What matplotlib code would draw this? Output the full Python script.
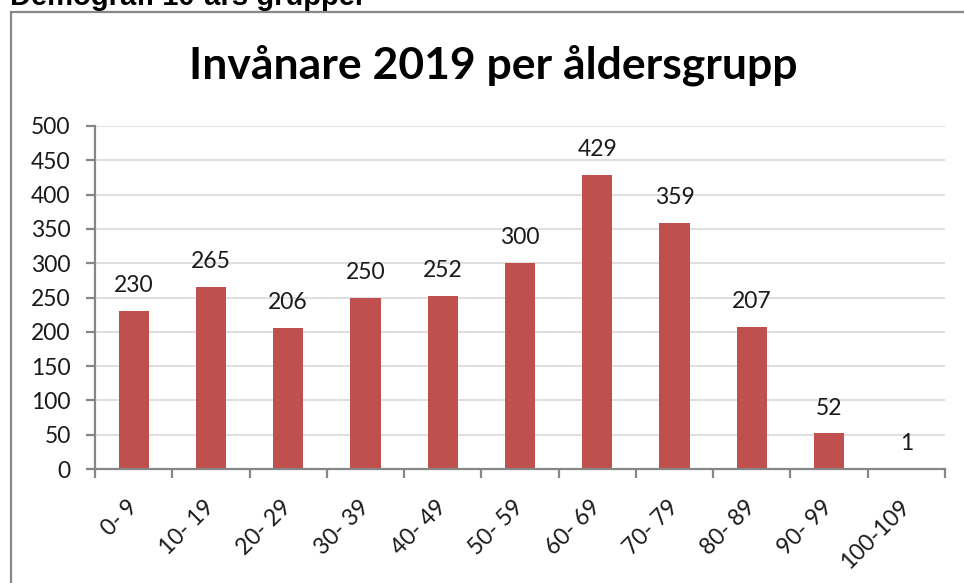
import matplotlib.pyplot as plt
import matplotlib.transforms as mtransforms
import numpy as np
from matplotlib.patches import Rectangle

grupper = ["0- 9", "10- 19", "20- 29", "30- 39", "40- 49", "50- 59",
           "60- 69", "70- 79", "80- 89", "90- 99", "100-109"]
invanare = [230, 265, 206, 250, 252, 300, 429, 359, 207, 52, 1]
yticks = np.arange(0, 501, 50)

bar_color = "#C0504D"
axis_color = "#868686"
grid_color = "#D9D9D9"
text_color = "#1a1a1a"

fig = plt.figure(figsize=(9.64, 5.83), dpi=100)
fig.patch.set_facecolor("white")

# ram runt diagrammet (högerkant och nederkant ligger utanför bilden)
fig.patches.append(Rectangle((11/964, -0.05), 1.2, 0.05 + 1 - 12/583,
                             transform=fig.transFigure, fill=False,
                             edgecolor="#888888", linewidth=1.6))

# avskuren rubrik överst
fig.text(10/964, 1 - 5/583, "Demografi 10-års grupper", family="Liberation Sans",
         weight="bold", fontsize=21, ha="left", va="baseline", color="black")

fig.text(493/964, 1 - 79/583, "Invånare 2019 per åldersgrupp", family="Lato",
         weight="bold", fontsize=32, ha="center", va="baseline", color="black")

ax = fig.add_axes([95/964, 1 - 469/583, (945 - 95)/964, (469 - 126)/583])
x = np.arange(len(grupper))
ax.bar(x, invanare, width=0.39, color=bar_color, zorder=3)

for xi, v in zip(x, invanare):
    ax.annotate(str(v), (xi, v), xytext=(0, 13.5), textcoords="offset points",
                ha="center", va="baseline", family="Lato", fontsize=16.5,
                color=text_color)

ax.set_xlim(-0.5, len(grupper) - 0.5)
ax.set_ylim(0, 500)
ax.set_yticks(yticks)
ax.set_yticklabels([str(t) for t in yticks], family="Lato", fontsize=16.5,
                   color=text_color)
ax.set_xticks(x)
ax.set_xticklabels(grupper, rotation=45, ha="right", va="center",
                   rotation_mode="anchor", family="Lato", fontsize=16.5,
                   color=text_color)
shift = mtransforms.ScaledTranslation(7/100, 0, fig.dpi_scale_trans)
for lab in ax.get_xticklabels():
    lab.set_transform(lab.get_transform() + shift)
ax.set_xticks(np.arange(-0.5, len(grupper)), minor=True)
ax.tick_params(axis="x", which="major", length=0, pad=25)
ax.tick_params(axis="x", which="minor", length=6.5, width=1.6, color=axis_color)
ax.tick_params(axis="y", length=6.5, width=1.6, color=axis_color, pad=11)

ax.grid(axis="y", color=grid_color, linewidth=1.2, zorder=0)
for s in ["top", "right"]:
    ax.spines[s].set_visible(False)
for s in ["left", "bottom"]:
    ax.spines[s].set_color(axis_color)
    ax.spines[s].set_linewidth(1.6)
    ax.spines[s].set_zorder(4)

plt.savefig("out.png", dpi=100)
